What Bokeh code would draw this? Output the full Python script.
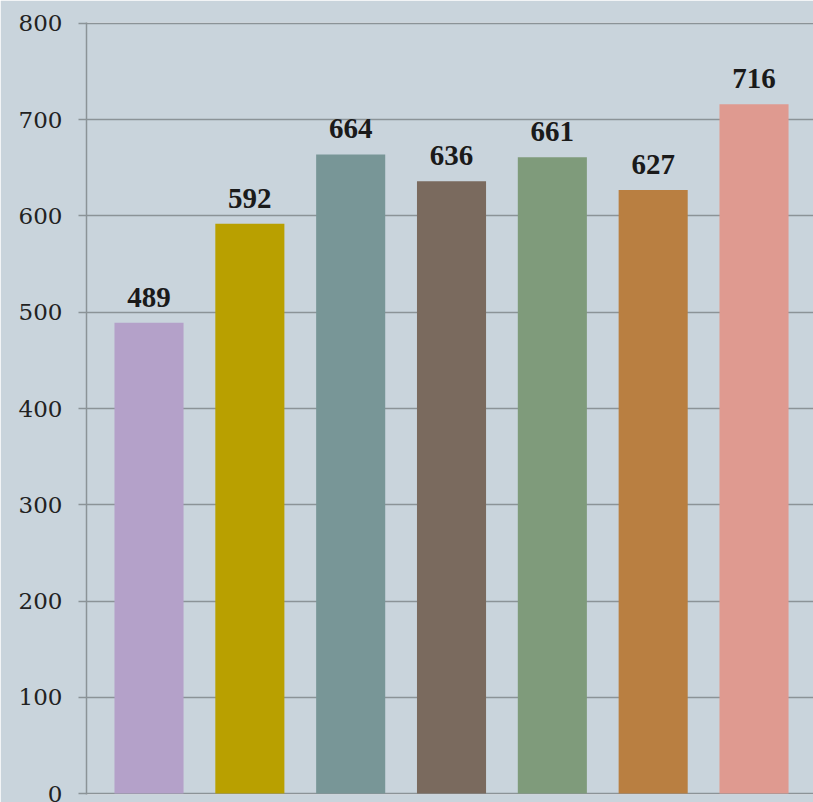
from bokeh.plotting import figure
from bokeh.models import ColumnDataSource, Range1d, FixedTicker, LabelSet
from bokeh.embed import file_html
from bokeh.resources import INLINE

# Bar values, in drawing order
values = [489, 592, 664, 636, 661, 627, 716]
colors = ["#b4a1c9", "#b9a000", "#789697", "#7a6a5e", "#7f9b7b", "#b97f41", "#df9a90"]
y_ticks = [0, 100, 200, 300, 400, 500, 600, 700, 800]

positions = list(range(len(values)))
labels = [str(v) for v in values]

source = ColumnDataSource(dict(x=positions, top=values, color=colors, label=labels))

bg = "#c9d4dc"
line_col = "#8b9397"
serif = "DejaVu Serif"

p = figure(
    width=813, height=802,
    x_range=Range1d(-0.62, 6.59), y_range=Range1d(-1, 801),
    output_backend="svg", toolbar_location=None,
    min_border_left=86, min_border_right=0, min_border_top=22, min_border_bottom=8,
    background_fill_color=bg, border_fill_color=bg,
)
p.outline_line_color = None

p.vbar(x="x", top="top", width=0.685, bottom=0, color="color", line_color=None, source=source)

labels_set = LabelSet(
    x="x", y="top", text="label", source=source,
    text_align="center", text_baseline="alphabetic", y_offset=16,
    text_font=serif, text_font_style="bold", text_font_size="29px",
    text_color="#1a1a1a",
)
p.add_layout(labels_set)

p.xaxis.visible = False
p.xgrid.visible = False
p.ygrid.grid_line_color = line_col
p.ygrid.grid_line_width = 1.3
p.ygrid.level = "underlay"

ax = p.yaxis[0]
ax.ticker = FixedTicker(ticks=y_ticks)
ax.axis_line_color = line_col
ax.axis_line_width = 1.5
ax.major_tick_line_color = line_col
ax.major_tick_line_width = 1.3
ax.major_tick_out = 8
ax.major_tick_in = 0
ax.minor_tick_line_color = None
ax.major_label_standoff = 16
ax.major_label_text_font = serif
ax.major_label_text_font_size = "23px"
ax.major_label_text_color = "#222222"

open("out.html", "w").write(file_html(p, INLINE))
